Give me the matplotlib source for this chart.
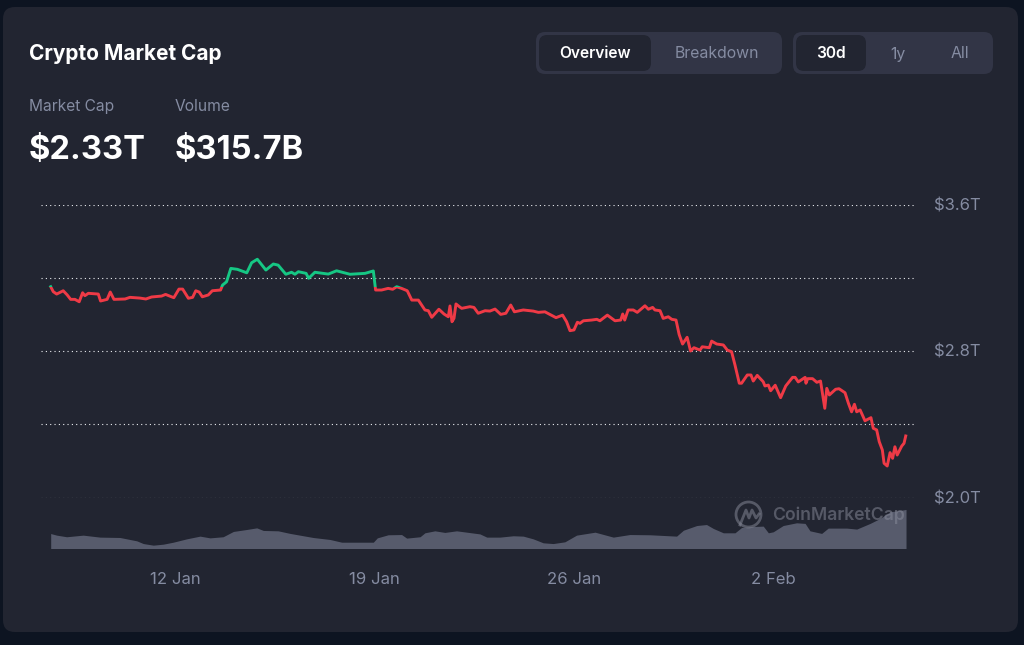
import matplotlib
matplotlib.use("Agg")
import matplotlib.pyplot as plt
from matplotlib.patches import FancyBboxPatch, Rectangle, Circle

plt.rcParams['font.family'] = ['Inter', 'DejaVu Sans']

# day of January (33 = 2 Feb), market cap in $T
cap_days = [7.64, 7.73, 7.85, 8.08, 8.22, 8.34, 8.49, 8.64, 8.76, 8.84, 8.96, 9.31, 9.39, 9.62, 9.73, 9.86,
            10.25, 10.42, 10.77, 10.98, 11.18, 11.53, 11.67, 11.96, 12.14, 12.27, 12.47, 12.62, 12.73, 12.85,
            12.96, 13.17, 13.31, 13.60, 13.67, 13.81, 13.96, 14.19, 14.52, 14.69, 14.89, 15.19, 15.45, 15.62,
            15.89, 16.09, 16.21, 16.33, 16.60, 16.69, 16.91, 17.38, 17.67, 18.14, 18.67, 18.96, 19.04, 19.25,
            19.48, 19.64, 19.78, 19.95, 20.15, 20.31, 20.54, 20.77, 20.89, 21.01, 21.26, 21.44, 21.59, 21.65,
            21.72, 21.79, 21.86, 21.98, 22.06, 22.35, 22.49, 22.64, 22.88, 23.05, 23.23, 23.43, 23.61, 23.78,
            23.91, 24.22, 24.57, 24.75, 24.98, 25.37, 25.60, 25.74, 25.86, 26.00, 26.12, 26.21, 26.33, 26.62,
            26.80, 26.91, 27.17, 27.44, 27.64, 27.71, 27.78, 27.90, 28.08, 28.22, 28.49, 28.61, 28.76, 28.84,
            29.02, 29.13, 29.31, 29.43, 29.58, 29.69, 29.81, 29.97, 30.09, 30.21, 30.42, 30.50, 30.75, 30.83,
            31.01, 31.24, 31.38, 31.53, 31.65, 31.80, 31.88, 32.08, 32.21, 32.29, 32.43, 32.64, 32.70, 32.82,
            32.90, 33.06, 33.25, 33.43, 33.67, 33.76, 33.87, 34.11, 34.14, 34.20, 34.37, 34.52, 34.65, 34.80,
            34.87, 34.96, 35.18, 35.30, 35.51, 35.63, 35.74, 35.84, 35.92, 36.04, 36.21, 36.42, 36.50, 36.62,
            36.71, 36.82, 36.88, 36.99, 37.09, 37.18, 37.26, 37.34, 37.50, 37.58, 37.64]
cap_values = [3.151, 3.124, 3.111, 3.129, 3.106, 3.082, 3.082, 3.069, 3.118, 3.102, 3.115, 3.111, 3.073, 3.082, 3.122, 3.082,
              3.084, 3.093, 3.089, 3.084, 3.095, 3.100, 3.109, 3.091, 3.138, 3.138, 3.088, 3.093, 3.129, 3.122,
              3.096, 3.106, 3.129, 3.133, 3.160, 3.178, 3.251, 3.246, 3.227, 3.282, 3.301, 3.242, 3.275, 3.269,
              3.219, 3.230, 3.219, 3.233, 3.224, 3.197, 3.230, 3.220, 3.238, 3.219, 3.224, 3.237, 3.133, 3.133,
              3.142, 3.137, 3.151, 3.142, 3.129, 3.078, 3.078, 3.024, 3.020, 2.984, 3.028, 3.002, 2.987, 3.046,
              2.960, 2.978, 3.057, 3.042, 3.033, 3.042, 3.038, 3.006, 3.020, 3.018, 3.029, 3.000, 3.006, 3.051,
              3.014, 3.024, 3.018, 3.011, 3.014, 2.982, 2.996, 2.960, 2.911, 2.915, 2.957, 2.951, 2.965, 2.969,
              2.973, 2.965, 2.996, 2.965, 2.969, 3.002, 2.969, 3.024, 3.024, 3.011, 3.047, 3.028, 3.038, 3.024,
              3.020, 2.978, 2.987, 2.973, 2.969, 2.890, 2.838, 2.875, 2.800, 2.818, 2.805, 2.823, 2.818, 2.854,
              2.838, 2.833, 2.805, 2.796, 2.723, 2.624, 2.624, 2.669, 2.669, 2.636, 2.667, 2.632, 2.609, 2.614,
              2.583, 2.613, 2.545, 2.609, 2.656, 2.656, 2.631, 2.656, 2.624, 2.649, 2.649, 2.629, 2.636, 2.487,
              2.596, 2.560, 2.591, 2.594, 2.572, 2.514, 2.468, 2.509, 2.468, 2.478, 2.419, 2.436, 2.378, 2.369,
              2.305, 2.259, 2.187, 2.172, 2.245, 2.214, 2.277, 2.232, 2.281, 2.296, 2.336]

# volume in $B
vol_days = [7.64, 7.85, 8.20, 8.78, 9.37, 10.07, 10.42, 10.66, 10.89, 11.24, 11.59, 11.94, 12.41, 12.88, 13.23,
            13.69, 14.05, 14.52, 14.87, 15.10, 15.62, 16.04, 16.85, 17.44, 17.85, 18.96, 19.10, 19.48, 19.95,
            20.13, 20.60, 20.77, 21.12, 21.47, 21.88, 22.70, 22.94, 23.40, 23.87, 24.22, 24.57, 24.92, 25.27,
            25.68, 26.09, 26.74, 27.38, 27.96, 28.67, 29.60, 29.84, 30.31, 30.65, 30.89, 31.24, 31.65, 31.88,
            32.29, 32.64, 32.82, 32.99, 33.34, 33.81, 34.11, 34.28, 34.69, 34.92, 35.57, 35.92, 36.39, 36.74,
            37.09, 37.50, 37.65]
vol_values = [121, 108, 95, 108, 92, 89, 73, 62, 40, 27, 35, 51, 78, 100, 86,
              95, 138, 154, 167, 146, 143, 122, 89, 73, 51, 51, 86, 111, 113,
              84, 95, 127, 143, 130, 143, 118, 92, 92, 103, 100, 78, 46, 40,
              54, 108, 132, 92, 113, 111, 100, 148, 186, 194, 162, 127, 127, 170,
              178, 181, 127, 135, 186, 208, 203, 143, 122, 165, 165, 157, 203, 243,
              297, 310, 316]

y_ticks = [2.0, 2.4, 2.8, 3.2, 3.6]
y_labels = ['$2.0T', '', '$2.8T', '', '$3.6T']
x_ticks = [12, 19, 26, 33]
x_labels = ['12 Jan', '19 Jan', '26 Jan', '2 Feb']

W, H = 1024, 645
RED = '#ef3a46'
GREEN = '#16c784'
CARD = '#222531'
PILL = '#323546'
GREY = '#858ca2'


def box(x0, y0, x1, y1):
    # pixel box (from top left) to figure fractions
    return [x0 / W, 1 - y1 / H, (x1 - x0) / W, (y1 - y0) / H]


fig = plt.figure(figsize=(10.24, 6.45), dpi=100, facecolor='#0d1421')

bg = fig.add_axes([0, 0, 1, 1])
bg.set_xlim(0, W)
bg.set_ylim(H, 0)
bg.axis('off')


def rounded(x0, y0, x1, y1, r, color):
    bg.add_patch(FancyBboxPatch((x0 + r, y0 + r), x1 - x0 - 2 * r, y1 - y0 - 2 * r,
                                boxstyle='round,pad=%d,rounding_size=%d' % (r, r),
                                fc=color, ec='none'))


rounded(3, 7, 1018, 632, 12, CARD)
rounded(536, 32, 782, 74, 9, PILL)
rounded(539, 35, 651, 71, 8, CARD)
rounded(793, 32, 993, 74, 9, PILL)
rounded(796, 35, 866, 71, 8, CARD)

bg.text(29, 54.5, 'Crypto Market Cap', color='white', fontsize=15, fontweight='bold', va='center')
bg.text(29, 111, 'Market Cap', color=GREY, fontsize=11.2, va='baseline')
bg.text(175, 111, 'Volume', color=GREY, fontsize=11.2, va='baseline')
bg.text(29, 150.5, '$2.33T', color='white', fontsize=23.5, fontweight='bold', va='center')
bg.text(175, 150.5, '$315.7B', color='white', fontsize=23.5, fontweight='bold', va='center')

bg.text(594.5, 54, 'Overview', color='white', fontsize=11.2, fontweight=600, ha='center', va='center')
bg.text(716.5, 54, 'Breakdown', color=GREY, fontsize=11.4, ha='center', va='center')
bg.text(830.5, 54, '30d', color='white', fontsize=11.2, fontweight=600, ha='center', va='center')
bg.text(898, 54, '1y', color=GREY, fontsize=11.4, ha='center', va='center')
bg.text(960, 54, 'All', color=GREY, fontsize=11.4, ha='center', va='center')

# market cap, green above the first value and red below it
ax = fig.add_axes(box(41, 204.5, 914, 497.5), facecolor='none')
ax.set_xlim(7.30, 37.93)
ax.set_ylim(2.0, 3.6)
ax.set_yticks(y_ticks)
ax.set_yticklabels(y_labels)
ax.yaxis.tick_right()
ax.set_xticks([])
ax.tick_params(axis='y', length=0, pad=14.4, labelsize=12, labelcolor=GREY)
ax.grid(axis='y', color='#eceef2', lw=0.8, linestyle=(0, (1, 2.9)))
ax.set_axisbelow(True)
for s in ax.spines.values():
    s.set_visible(False)

base = cap_values[0]
red_line, = ax.plot(cap_days, cap_values, color=RED, lw=2.1, solid_joinstyle='round')
red_line.set_clip_path(Rectangle((7, 1.5), 32, base - 1.5, transform=ax.transData))
green_line, = ax.plot(cap_days, cap_values, color=GREEN, lw=2.1, solid_joinstyle='round')
green_line.set_clip_path(Rectangle((7, base), 32, 1, transform=ax.transData))

# volume strip under the line
vol = fig.add_axes(box(41, 505, 914, 548.5), facecolor='none')
vol.set_xlim(7.30, 37.93)
vol.set_ylim(0, 352)
vol.fill_between(vol_days, vol_values, 0, color='#575b6c', lw=0)
vol.set_yticks([])
vol.set_xticks(x_ticks)
vol.set_xticklabels(x_labels)
vol.tick_params(axis='x', length=0, pad=17, labelsize=12, labelcolor=GREY)
for s in vol.spines.values():
    s.set_visible(False)

# watermark
top = fig.add_axes([0, 0, 1, 1], facecolor='none')
top.set_xlim(0, W)
top.set_ylim(H, 0)
top.axis('off')
wm = '#8a8d9c'
top.add_patch(Circle((748.5, 514.5), 12.5, fc='none', ec=wm, lw=2, alpha=0.5))
top.plot([740, 746, 749, 752, 756, 759], [525, 510, 518, 510, 518, 514], color=wm, lw=2, alpha=0.5)
top.text(772, 515.5, 'CoinMarketCap', color=wm, fontsize=12.7, fontweight=600, va='center', alpha=0.5)

fig.savefig('out.png', dpi=100, facecolor=fig.get_facecolor())
